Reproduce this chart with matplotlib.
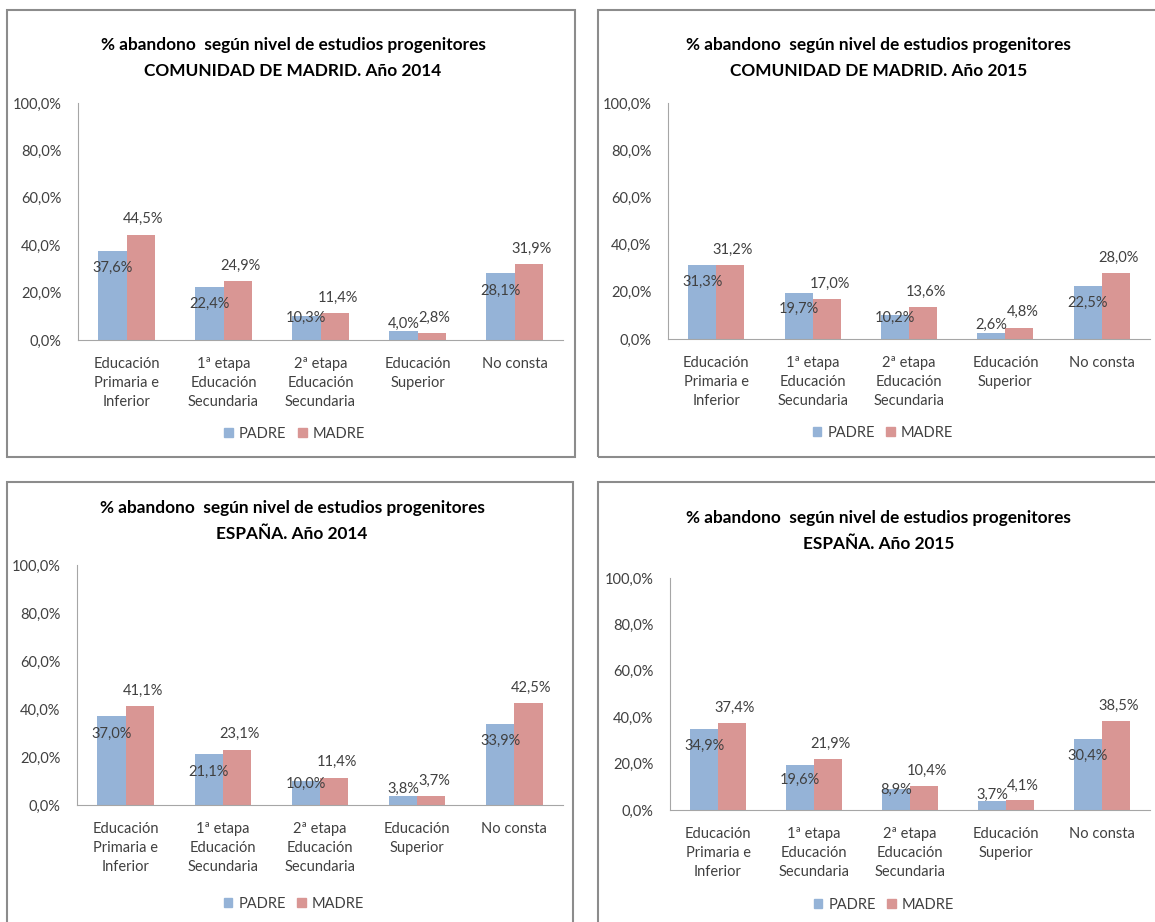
import numpy as np
import matplotlib.pyplot as plt
from matplotlib.patches import Rectangle, Patch

plt.rcParams['font.family'] = ['Lato', 'DejaVu Sans']

categories = ["Educación\nPrimaria e\nInferior", "1ª etapa\nEducación\nSecundaria",
              "2ª etapa\nEducación\nSecundaria", "Educación\nSuperior", "No consta"]
y_ticks = [0, 20, 40, 60, 80, 100]

madrid_2014_padre = [37.6, 22.4, 10.3, 4.0, 28.1]
madrid_2014_madre = [44.5, 24.9, 11.4, 2.8, 31.9]
madrid_2015_padre = [31.3, 19.7, 10.2, 2.6, 22.5]
madrid_2015_madre = [31.2, 17.0, 13.6, 4.8, 28.0]
espana_2014_padre = [37.0, 21.1, 10.0, 3.8, 33.9]
espana_2014_madre = [41.1, 23.1, 11.4, 3.7, 42.5]
espana_2015_padre = [34.9, 19.6, 8.9, 3.7, 30.4]
espana_2015_madre = [37.4, 21.9, 10.4, 4.1, 38.5]

titles = ["% abandono  según nivel de estudios progenitores\nCOMUNIDAD DE MADRID. Año 2014",
          "% abandono  según nivel de estudios progenitores\nCOMUNIDAD DE MADRID. Año 2015",
          "% abandono  según nivel de estudios progenitores\nESPAÑA. Año 2014",
          "% abandono  según nivel de estudios progenitores\nESPAÑA. Año 2015"]

W, H = 1155, 922
C_PADRE = '#95b3d7'
C_MADRE = '#d99694'
TXT = '#404040'
AX = '#a6a6a6'

fig = plt.figure(figsize=(W / 100, H / 100), dpi=100)


def fx(x):
    return x / W


def fy(y):
    return 1 - y / H


def pct(v):
    return f"{v:.1f}%".replace('.', ',')


# panel frames in pixels: x0, y0, x1, y1
frames = [(7, 10, 575, 457), (598, 10, 1165, 457), (7, 482, 573, 935), (598, 482, 1165, 935)]
for x0, y0, x1, y1 in frames:
    fig.patches.append(Rectangle((fx(x0), fy(y1)), fx(x1 - x0), (y1 - y0) / H,
                                 transform=fig.transFigure, fill=False,
                                 edgecolor='#8c8c8c', lw=1.5))

# plot areas: left, right, y of 0%, y of 100%, title y, legend y
areas = [(78, 563, 340, 103, 58, 434),
         (668, 1150, 339, 103, 58, 433),
         (77, 563, 805, 565, 521, 904),
         (670, 1150, 810, 578, 531, 905)]
data = [(madrid_2014_padre, madrid_2014_madre), (madrid_2015_padre, madrid_2015_madre),
        (espana_2014_padre, espana_2014_madre), (espana_2015_padre, espana_2015_madre)]

x = np.arange(len(categories))
w = 0.29
for (l, r, y0, y100, ty, ly), (padre, madre), title, fr in zip(areas, data, titles, frames):
    ax = fig.add_axes([fx(l), fy(y0), fx(r - l), (y0 - y100) / H])
    ax.bar(x - w / 2, padre, w, color=C_PADRE)
    ax.bar(x + w / 2, madre, w, color=C_MADRE)
    ax.set_xlim(-0.5, 4.5)
    ax.set_ylim(0, 100)
    ax.set_yticks(y_ticks)
    ax.set_yticklabels([pct(t) for t in y_ticks])
    ax.set_xticks(x)
    ax.set_xticklabels(categories, linespacing=1.45, va='top')
    ax.tick_params(length=0, labelsize=10.5, labelcolor=TXT)
    ax.tick_params(axis='y', pad=12)
    ax.tick_params(axis='x', pad=12)
    for s in ['top', 'right']:
        ax.spines[s].set_visible(False)
    for s in ['left', 'bottom']:
        ax.spines[s].set_color(AX)

    # data labels: PADRE inside the top of the bar, MADRE above it
    for xi, v in zip(x, padre):
        ax.text(xi - w / 2, max(v - 7.2, 0.4 * v + 5), pct(v), ha='center', va='center',
                fontsize=10.5, color=TXT)
    for xi, v in zip(x, madre):
        ax.text(xi + w / 2 + 0.03, v + 6.5, pct(v), ha='center', va='center',
                fontsize=10.5, color=TXT)

    cx = (fr[0] + min(fr[2], W)) / 2 + 2
    fig.text(fx(cx), fy(ty), title, ha='center', va='center', fontsize=12.4,
             fontweight='bold', linespacing=1.7)
    handles = [Patch(color=C_PADRE, label='PADRE'), Patch(color=C_MADRE, label='MADRE')]
    fig.legend(handles=handles, loc='center', bbox_to_anchor=(fx((l + r) / 2 - 26), fy(ly)),
               ncol=2, frameon=False, handlelength=0.6, handleheight=0.6,
               handletextpad=0.4, columnspacing=0.8, fontsize=10.5, labelcolor=TXT)

fig.savefig('out.png', dpi=100)
